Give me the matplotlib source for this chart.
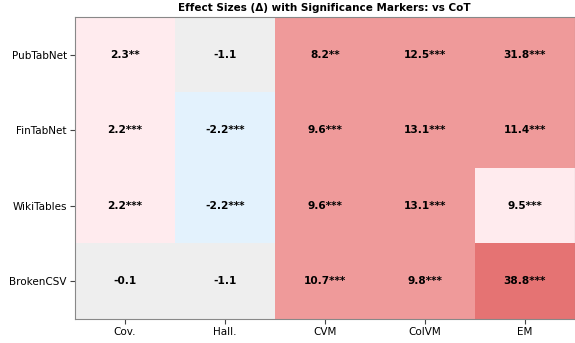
import numpy as np
import matplotlib.pyplot as plt
from matplotlib.colors import ListedColormap, BoundaryNorm

datasets = ["PubTabNet", "FinTabNet", "WikiTables", "BrokenCSV"]
metrics = ["Cov.", "Hall.", "CVM", "ColVM", "EM"]

# effect size (delta vs CoT) per dataset x metric
deltas = [
    [2.3, -1.1, 8.2, 12.5, 31.8],
    [2.2, -2.2, 9.6, 13.1, 11.4],
    [2.2, -2.2, 9.6, 13.1, 9.5],
    [-0.1, -1.1, 10.7, 9.8, 38.8],
]
stars = [
    ["**", "", "**", "***", "***"],
    ["***", "***", "***", "***", "***"],
    ["***", "***", "***", "***", "***"],
    ["", "", "***", "***", "***"],
]
# effect category: 0 worse, 1 n.s., 2 small, 3 medium, 4 large
levels = [
    [2, 1, 3, 3, 3],
    [2, 0, 3, 3, 3],
    [2, 0, 3, 3, 2],
    [1, 1, 3, 3, 4],
]

palette = ["#E3F2FD", "#EEEEEE", "#FFEBEE", "#EF9A9A", "#E57373"]
cmap = ListedColormap(palette)
norm = BoundaryNorm(np.arange(-0.5, len(palette) + 0.5), cmap.N)

fig = plt.figure(figsize=(5.75, 3.43), dpi=100)
ax = fig.add_axes([75 / 575, 24 / 343, 499.5 / 575, 302 / 343])

ax.imshow(np.array(levels), cmap=cmap, norm=norm, aspect="auto")

for i in range(len(datasets)):
    for j in range(len(metrics)):
        ax.text(j, i, f"{deltas[i][j]:.1f}{stars[i][j]}", ha="center", va="center",
                fontsize=7.6, fontweight="bold", color="black")

ax.set_xticks(range(len(metrics)))
ax.set_xticklabels(metrics, fontsize=7.5)
ax.set_yticks(range(len(datasets)))
ax.set_yticklabels(datasets, fontsize=7.5)
ax.tick_params(length=3.5, width=0.8, color="#444444", pad=2.5)
for s in ax.spines.values():
    s.set_color("#888888")
ax.set_title("Effect Sizes (Δ) with Significance Markers: vs CoT", fontsize=7.5,
             fontweight="bold", pad=4)

fig.savefig("out.png", dpi=100)
